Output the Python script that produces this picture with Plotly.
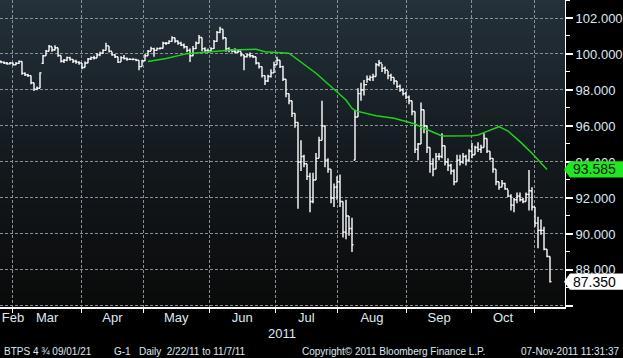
import plotly.graph_objects as go

# ---------------- data (BTPS 4 3/4 09/01/21, daily bars 2/22/11 - 11/7/11) ----------------
opens = [99.60, 99.55, 99.50, 99.45, 99.50, 99.40, 99.48, 99.58, 98.92, 98.85,
         98.80, 98.40, 98.05, 98.10, 99.48, 99.90, 100.15, 100.42, 100.22, 100.35,
         99.92, 99.60, 99.65, 99.80, 99.70, 99.60, 99.55, 99.50, 99.25, 99.50,
         99.72, 99.80, 99.78, 99.95, 100.05, 100.20, 100.45, 100.15, 99.95, 99.85,
         99.55, 99.80, 99.75, 99.70, 99.70, 99.70, 99.65, 99.30, 99.62, 99.90,
         100.15, 100.30, 100.20, 100.30, 100.32, 100.60, 100.60, 100.70, 100.90, 100.72,
         100.60, 100.50, 100.40, 100.20, 99.90, 100.30, 100.60, 100.92, 100.30, 100.20,
         100.15, 100.30, 100.70, 101.20, 101.38, 100.90, 100.30, 100.20, 100.15, 100.10,
         100.15, 99.95, 99.85, 99.95, 99.90, 99.85, 99.50, 99.30, 98.80, 98.50,
         98.75, 98.95, 99.40, 99.65, 99.30, 98.60, 97.80, 97.40, 96.70, 96.20,
         94.00, 94.30, 93.90, 93.20, 91.80, 93.00, 94.20, 95.20, 96.00, 94.10,
         93.60, 92.00, 92.60, 92.90, 91.80, 90.10, 91.00, 90.30, 94.10, 96.50,
         97.80, 98.00, 98.30, 98.60, 98.70, 98.75, 99.40, 99.50, 99.20, 99.10,
         98.80, 98.70, 98.50, 98.20, 98.00, 97.80, 97.60, 97.40, 96.80, 94.70,
         95.00, 96.90, 96.00, 94.80, 93.90, 93.60, 94.30, 94.30, 94.90, 94.00,
         93.80, 93.50, 92.90, 94.10, 94.00, 94.30, 94.10, 94.60, 94.40, 94.80,
         94.70, 94.80, 95.30, 94.60, 94.20, 93.60, 92.90, 92.60, 92.80, 92.50,
         92.10, 91.60, 91.90, 92.10, 91.90, 91.80, 92.20, 92.40, 91.50, 90.60,
         90.20, 90.20, 89.15, 88.75]

highs = [99.62, 99.58, 99.55, 99.56, 99.52, 99.55, 99.64, 99.60, 98.98, 98.90,
         98.80, 98.40, 98.20, 98.98, 99.95, 100.22, 100.50, 100.40, 100.48, 100.35,
         99.92, 99.72, 99.86, 99.84, 99.72, 99.68, 99.60, 99.50, 99.58, 99.78,
         99.86, 99.90, 100.05, 100.12, 100.26, 100.62, 100.45, 100.12, 100.00, 99.85,
         99.88, 99.95, 99.80, 99.76, 99.76, 99.74, 99.65, 99.68, 100.00, 100.22,
         100.40, 100.35, 100.36, 100.38, 100.68, 100.66, 100.76, 100.98, 100.90, 100.75,
         100.68, 100.58, 100.45, 100.30, 100.45, 100.70, 101.05, 100.92, 100.38, 100.30,
         100.38, 100.78, 101.28, 101.52, 101.38, 100.90, 100.38, 100.28, 100.32, 100.24,
         100.14, 99.96, 100.02, 100.08, 99.95, 99.85, 99.52, 99.30, 98.80, 98.85,
         99.15, 99.57, 99.85, 99.65, 99.35, 98.60, 97.80, 97.40, 96.70, 96.20,
         95.20, 94.40, 93.90, 93.40, 93.40, 94.50, 95.40, 97.40, 96.00, 94.20,
         93.60, 92.80, 93.20, 93.30, 91.80, 91.90, 91.00, 90.90, 96.90, 98.10,
         98.40, 98.55, 98.80, 98.80, 98.90, 99.50, 99.67, 99.45, 99.30, 99.05,
         98.90, 98.70, 98.50, 98.30, 98.10, 97.90, 97.70, 97.40, 96.80, 95.05,
         97.30, 96.90, 96.00, 94.80, 94.20, 94.50, 94.50, 95.60, 94.90, 94.20,
         93.90, 93.60, 94.40, 94.40, 94.50, 94.40, 94.70, 95.05, 94.90, 95.10,
         94.95, 95.60, 95.30, 94.60, 94.20, 93.60, 92.90, 93.00, 92.85, 92.45,
         92.20, 92.00, 92.30, 92.30, 92.00, 92.30, 93.55, 92.60, 91.50, 90.95,
         90.80, 90.40, 89.15, 88.75]

lows = [99.48, 99.45, 99.40, 99.42, 99.36, 99.38, 99.45, 98.85, 98.78, 98.72,
        98.32, 97.95, 97.98, 98.10, 99.45, 99.90, 100.15, 100.12, 100.20, 99.85,
        99.52, 99.50, 99.60, 99.62, 99.50, 99.46, 99.40, 99.15, 99.25, 99.48,
        99.66, 99.70, 99.78, 99.88, 100.00, 100.20, 100.08, 99.90, 99.78, 99.50,
        99.55, 99.70, 99.62, 99.66, 99.65, 99.60, 99.10, 99.30, 99.60, 99.90,
        100.15, 99.85, 100.18, 100.25, 100.30, 100.50, 100.55, 100.68, 100.62, 100.52,
        100.45, 100.30, 100.10, 99.55, 99.88, 100.28, 100.58, 100.15, 100.10, 100.05,
        100.12, 100.28, 100.68, 101.15, 100.80, 100.12, 100.10, 100.08, 100.04, 100.05,
        99.86, 99.10, 99.80, 99.80, 99.78, 99.42, 99.20, 98.70, 98.28, 98.45,
        98.70, 98.95, 99.40, 99.22, 98.50, 97.60, 97.20, 96.50, 95.90, 91.40,
        93.50, 93.70, 93.00, 91.20, 91.70, 93.00, 94.20, 95.20, 93.70, 93.40,
        91.70, 91.50, 91.90, 91.50, 89.80, 89.70, 89.90, 89.00, 94.10, 96.50,
        97.40, 97.70, 98.40, 98.50, 98.50, 98.75, 99.30, 99.00, 98.90, 98.60,
        98.50, 98.30, 98.10, 97.90, 97.70, 97.50, 97.20, 96.60, 94.50, 94.10,
        95.00, 95.60, 94.50, 93.40, 93.20, 93.60, 94.10, 94.20, 93.80, 93.50,
        93.30, 92.70, 92.90, 93.80, 93.90, 93.80, 94.00, 94.20, 94.40, 94.55,
        94.50, 94.80, 94.50, 94.10, 93.40, 92.70, 92.45, 92.60, 92.45, 92.05,
        91.30, 91.20, 91.70, 91.80, 91.70, 91.80, 91.30, 91.30, 90.40, 89.20,
        89.95, 89.10, 88.70, 87.30]

closes = [99.55, 99.50, 99.45, 99.50, 99.40, 99.48, 99.58, 98.92, 98.85, 98.80,
          98.40, 98.05, 98.10, 98.95, 99.90, 100.15, 100.42, 100.22, 100.35, 99.92,
          99.60, 99.65, 99.80, 99.70, 99.60, 99.55, 99.50, 99.25, 99.50, 99.72,
          99.80, 99.78, 99.95, 100.05, 100.20, 100.45, 100.15, 99.95, 99.85, 99.55,
          99.80, 99.75, 99.70, 99.70, 99.70, 99.65, 99.30, 99.62, 99.90, 100.15,
          100.30, 100.20, 100.30, 100.32, 100.60, 100.60, 100.70, 100.90, 100.72, 100.60,
          100.50, 100.40, 100.20, 99.90, 100.30, 100.60, 100.92, 100.30, 100.20, 100.15,
          100.30, 100.70, 101.20, 101.38, 100.90, 100.30, 100.20, 100.15, 100.10, 100.15,
          99.95, 99.85, 99.95, 99.90, 99.85, 99.50, 99.30, 98.80, 98.50, 98.75,
          98.95, 99.40, 99.65, 99.30, 98.60, 97.80, 97.40, 96.70, 96.20, 94.00,
          94.30, 93.90, 93.20, 91.80, 93.00, 94.20, 95.20, 96.00, 94.10, 93.60,
          92.00, 92.60, 92.90, 91.80, 90.10, 91.00, 90.30, 89.40, 96.50, 97.80,
          98.00, 98.30, 98.60, 98.70, 98.75, 99.40, 99.50, 99.20, 99.10, 98.80,
          98.70, 98.50, 98.20, 98.00, 97.80, 97.60, 97.40, 96.80, 94.70, 95.00,
          96.90, 96.00, 94.80, 93.90, 93.60, 94.30, 94.30, 94.90, 94.00, 93.80,
          93.50, 92.90, 94.10, 94.00, 94.30, 94.10, 94.60, 94.40, 94.80, 94.70,
          94.80, 95.30, 94.60, 94.20, 93.60, 92.90, 92.60, 92.80, 92.50, 92.10,
          91.60, 91.90, 92.10, 91.90, 91.80, 92.20, 92.40, 91.50, 90.60, 90.20,
          90.20, 89.15, 88.75, 87.35]

# moving average line (green), read at selected sessions
ma_session = [49, 55, 62, 71, 77, 85, 88, 96, 99, 105, 111, 115, 117, 118, 125,
              131, 135, 138, 141, 147, 157, 159, 162, 166, 169, 173, 177, 182]
ma_value = [99.58, 99.75, 100.02, 100.16, 100.22, 100.26, 100.13, 100.04, 99.67, 98.93,
            98.04, 97.44, 96.98, 96.85, 96.57, 96.43, 96.25, 96.11, 95.87, 95.44,
            95.46, 95.50, 95.70, 95.96, 95.72, 95.13, 94.48, 93.585]

month_names = ["Feb", "Mar", "Apr", "May", "Jun", "Jul", "Aug", "Sep", "Oct"]
month_label_pos = [4.0, 15.4, 37.15, 58.4, 80.4, 101.75, 123.65, 146.05, 167.35]
month_starts = [3.9, 26.9, 47.4, 69.4, 91.4, 112.1, 135.2, 156.9, 177.8]
price_ticks = [86, 88, 90, 92, 94, 96, 98, 100, 102]
price_tick_text = ["", "88.000", "90.000", "92.000", "94.000", "96.000", "98.000", "100.000", "102.000"]
price_minor = [87, 89, 91, 93, 95, 97, 99, 101, 103]

session = list(range(len(closes)))

# ---------------- styling ----------------
FONT = "Liberation Sans, Arial, sans-serif"
TXT = "#dfe8f3"
GRID = "#8a9096"
GREEN_LINE = "#1fd21f"
GREEN_TAG = "#22e622"
PLOT_W = 565.0  # plot width in px
PLOT_H = 307.0  # plot height in px

fig = go.Figure()

fig.add_trace(go.Ohlc(
    x=session, open=opens, high=highs, low=lows, close=closes,
    increasing=dict(line=dict(color="white", width=1.4)),
    decreasing=dict(line=dict(color="white", width=1.4)),
    tickwidth=0.5, showlegend=False, hoverinfo="skip",
))
fig.add_trace(go.Scatter(
    x=ma_session, y=ma_value, mode="lines",
    line=dict(color=GREEN_LINE, width=1.5), showlegend=False, hoverinfo="skip",
))

# vertical gradient background of the plotting area
def lerp(a, b, t):
    return tuple(round(a[i] + (b[i] - a[i]) * t) for i in range(3))

bottom_c, mid_c, top_c = (10, 10, 10), (20, 26, 31), (36, 49, 58)
N = 60
for i in range(N):
    t = (i + 0.5) / N
    c = lerp(bottom_c, mid_c, t / 0.5) if t < 0.5 else lerp(mid_c, top_c, (t - 0.5) / 0.5)
    fig.add_shape(type="rect", xref="paper", yref="paper", x0=0, x1=1,
                  y0=i / N, y1=min(1.0, (i + 1) / N + 0.004),
                  fillcolor="rgb(%d,%d,%d)" % c, line=dict(width=0), layer="below")

# last-value tags on the right axis
def tag(value, fill, txtcolor):
    h = 0.45
    xl, xb, xr = 564 / PLOT_W, 570 / PLOT_W, 623 / PLOT_W
    path = (f"M {xl} {value} L {xb} {value + h} L {xr} {value + h} "
            f"L {xr} {value - h} L {xb} {value - h} Z")
    fig.add_shape(type="path", xref="paper", yref="y", path=path,
                  fillcolor=fill, line=dict(width=0), layer="above")
    fig.add_annotation(xref="paper", yref="y", x=594 / PLOT_W, y=value,
                       text=f"{value:.3f}", showarrow=False, xanchor="center", yanchor="middle",
                       font=dict(family=FONT, size=14, color=txtcolor))

tag(ma_value[-1], GREEN_TAG, "#062006")
tag(closes[-1], "#ffffff", "#000000")

# year label and footer
def px_x(px):
    return px / PLOT_W

def px_y(py):
    return (PLOT_H - py) / PLOT_H

fig.add_annotation(xref="paper", yref="paper", x=px_x(282), y=px_y(333), text="2011",
                   showarrow=False, xanchor="center", yanchor="middle",
                   font=dict(family=FONT, size=13, color=TXT))
footer = [
    ("BTPS 4 \u00be 09/01/21", 2, "left"),
    ("G-1", 112, "left"),
    ("Daily  2/22/11 to 11/7/11", 137, "left"),
    ("Copyright\u00a9 2011 Bloomberg Finance L.P.", 300, "left"),
    ("07-Nov-2011 11:31:37", 621, "right"),
]
for txt, x, anc in footer:
    fig.add_annotation(xref="paper", yref="paper", x=px_x(x), y=px_y(351), text=txt,
                       showarrow=False, xanchor=anc, yanchor="middle",
                       font=dict(family=FONT, size=10, color=TXT))

fig.update_layout(
    width=623, height=358,
    margin=dict(l=0, r=58, t=0, b=51, autoexpand=False),
    paper_bgcolor="black", plot_bgcolor="black",
    showlegend=False,
    font=dict(family=FONT, color=TXT),
)
fig.update_xaxes(
    range=[-1 / 3, 188], rangeslider=dict(visible=False), automargin=False,
    tickmode="array", tickvals=month_label_pos, ticktext=month_names,
    ticks="", showgrid=False, zeroline=False,
    showline=True, linecolor="white", linewidth=2,
    tickfont=dict(family=FONT, size=13, color=TXT),
    ticklabelstandoff=-3,
    minor=dict(tickmode="array", tickvals=month_starts, ticks="outside", ticklen=4,
               tickcolor="white", tickwidth=1, showgrid=True, gridcolor=GRID,
               griddash="3px,2px", gridwidth=1),
)
fig.update_yaxes(
    side="right", range=[85.94, 103], automargin=False,
    tickmode="array", tickvals=price_ticks, ticktext=price_tick_text,
    ticks="outside", ticklen=7, tickwidth=2, tickcolor="white",
    showline=True, linecolor="white", linewidth=1,
    showgrid=True, gridcolor=GRID, griddash="3px,2px", gridwidth=1,
    zeroline=False,
    tickfont=dict(family=FONT, size=13, color=TXT),
    minor=dict(tickmode="array", tickvals=price_minor, ticks="outside", ticklen=4,
               tickcolor="white", tickwidth=1, showgrid=False),
)

fig.write_html(
    "out.html",
    config={"displayModeBar": False, "staticPlot": True},
    post_script="document.body.style.margin='0';document.body.style.overflow='hidden';",
)
